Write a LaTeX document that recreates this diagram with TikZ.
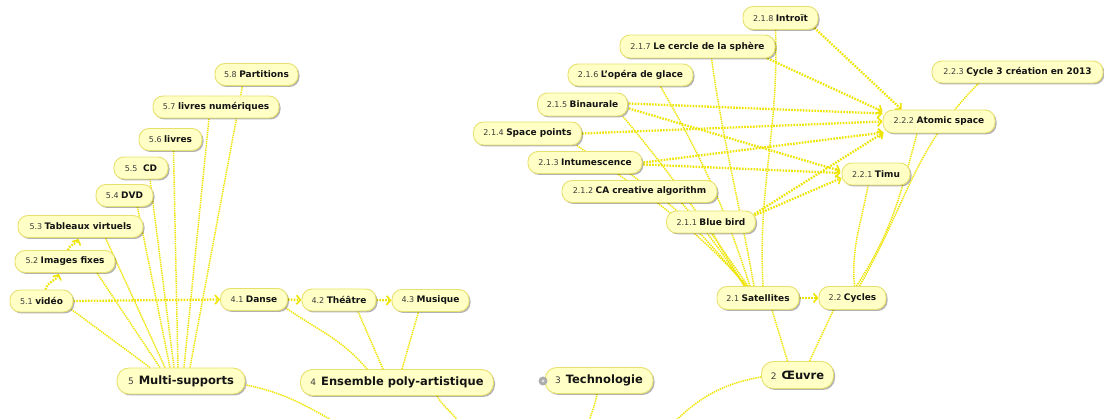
\documentclass[tikz,border=0pt]{standalone}
\usepackage{fontspec}
\setmainfont{DejaVu Sans}
\usetikzlibrary{arrows.meta,shadows,calc}
\definecolor{nodefill}{RGB}{255,255,198}
\definecolor{nodeborder}{RGB}{232,224,110}
\definecolor{edgey}{RGB}{238,228,0}
\definecolor{numgray}{RGB}{60,60,60}
\definecolor{labblack}{RGB}{20,20,20}
\pgfdeclarelayer{edgelayer}
\pgfsetlayers{edgelayer,main}
\newcommand\sn[2]{{\fontsize{8}{9}\selectfont\color{numgray}#1}\hspace{2.5pt}{\fontsize{9}{10}\selectfont\bfseries\color{labblack}#2}}
\newcommand\bn[2]{{\fontsize{9}{10}\selectfont\color{numgray}#1}\hspace{5pt}{\fontsize{11.5}{13}\selectfont\bfseries\color{labblack}#2}}
\tikzset{
  topic/.style={draw=nodeborder, fill=nodefill, line width=0.9pt, rounded corners=10pt, minimum height=22pt, inner xsep=3pt, inner ysep=0pt, drop shadow={shadow xshift=1.5pt, shadow yshift=-1.5pt, opacity=0.3, fill=black}},
  bigtopic/.style={topic, rounded corners=12pt, minimum height=26pt},
  link/.style={draw=edgey, line width=1.5pt, dash pattern=on 1.3pt off 0.9pt},
  rel/.style={draw=edgey, line width=2.3pt, dash pattern=on 1.6pt off 1.3pt, -{Straight Barb[length=4pt,width=9pt,line width=1.6pt]}},
  marker/.style={circle, fill=gray!65, minimum size=9pt, inner sep=0pt},
  markerdot/.style={circle, fill=gray!20, minimum size=3pt, inner sep=0pt},
}
\begin{document}
\begin{tikzpicture}[x=1pt,y=1pt]
\useasboundingbox (0,0) rectangle (1104,-419);
% nodes
\node[topic, minimum width=83pt] (p58) at (256.5,-74.5) {\sn{5.8}{Partitions}};
\node[topic, minimum width=126pt] (p57) at (216,-107) {\sn{5.7}{livres numériques}};
\node[topic, minimum width=63pt] (p56) at (170.5,-139.5) {\sn{5.6}{livres}};
\node[topic, minimum width=54pt] (p55) at (141,-168) {\sn{5.5}{\hspace{3pt}CD}};
\node[topic, minimum width=57pt] (p54) at (124.5,-195.5) {\sn{5.4}{DVD}};
\node[topic, minimum width=125pt] (p53) at (80.5,-226.5) {\sn{5.3}{Tableaux virtuels}};
\node[topic, minimum width=100pt] (p52) at (65,-261.5) {\sn{5.2}{Images fixes}};
\node[topic, minimum width=63pt] (p51) at (41.5,-301) {\sn{5.1}{vidéo}};
\node[topic, minimum width=67pt] (p41) at (254,-299.5) {\sn{4.1}{Danse}};
\node[topic, minimum width=74pt] (p42) at (339,-300) {\sn{4.2}{Théâtre}};
\node[topic, minimum width=77pt] (p43) at (430.5,-300.5) {\sn{4.3}{Musique}};
\node[bigtopic, minimum width=128pt] (p5) at (181,-381) {\bn{5}{Multi-supports}};
\node[bigtopic, minimum width=193pt] (p4) at (397,-382.5) {\bn{4}{Ensemble poly-artistique}};
\node[bigtopic, minimum width=108pt] (p3) at (599,-380.5) {\bn{3}{Technologie}};
\node[marker] (p3c) at (543,-381) {};
\node[markerdot] (p3d) at (p3c) {};
\node[bigtopic, minimum width=72pt, minimum height=27pt] (p2) at (797.5,-375) {\bn{2}{Œuvre}};
\node[topic, minimum width=82pt, minimum height=23pt] (s21) at (758,-298) {\sn{2.1}{Satellites}};
\node[topic, minimum width=67pt, minimum height=23pt] (s22) at (852.5,-298) {\sn{2.2}{Cycles}};
\node[topic, minimum width=171pt] (c223) at (1017.5,-72) {\sn{2.2.3}{Cycle 3 création en 2013}};
\node[topic, minimum width=112pt, minimum height=23pt] (c222) at (939,-121.5) {\sn{2.2.2}{Atomic space}};
\node[topic, minimum width=68pt] (c221) at (876,-174) {\sn{2.2.1}{Timu}};
\node[topic, minimum width=75pt, minimum height=23pt] (a218) at (780.5,-18) {\sn{2.1.8}{Introït}};
\node[topic, minimum width=155pt, minimum height=23pt] (a217) at (697.5,-46.5) {\sn{2.1.7}{Le cercle de la sphère}};
\node[topic, minimum width=125pt] (a216) at (630.5,-75) {\sn{2.1.6}{L'opéra de glace}};
\node[topic, minimum width=90pt, minimum height=23pt] (a215) at (582.5,-104.5) {\sn{2.1.5}{Binaurale}};
\node[topic, minimum width=108pt, minimum height=23pt] (a214) at (527.5,-133.5) {\sn{2.1.4}{Space points}};
\node[topic, minimum width=114pt] (a213) at (585,-162.5) {\sn{2.1.3}{Intumescence}};
\node[topic, minimum width=155pt] (a212) at (639.5,-191.5) {\sn{2.1.2}{CA creative algorithm}};
\node[topic, minimum width=89pt] (a211) at (711,-222) {\sn{2.1.1}{Blue bird}};
% free ends
\coordinate (e5) at (345,-428);
\coordinate (e4) at (462,-428);
\coordinate (e3) at (587,-428);
\coordinate (e2) at (668,-428);
\begin{pgfonlayer}{edgelayer}
% Multi-supports
\draw[link] ($(p5.north)+(-31,0)$) -- ($(p51.south east)+(-2,3)$);
\draw[link] ($(p5.north)+(-21,0)$) -- ($(p52.south)+(32,0)$);
\draw[link] ($(p5.north)+(-16,0)$) -- ($(p53.south)+(25,0)$);
\draw[link] ($(p5.north)+(-11,0)$) -- ($(p54.south)+(13,0)$);
\draw[link] ($(p5.north)+(-7,0)$) -- ($(p55.south)+(9,0)$);
\draw[link] ($(p5.north)+(-3,0)$) -- ($(p56.south)+(3,0)$);
\draw[link] ($(p5.north)+(3,0)$) -- ($(p57.south)+(-7,0)$);
\draw[link] ($(p5.north)+(9,0)$) -- ($(p58.south)+(-14,0)$);
\draw[link] ($(p5.east)+(1,-4)$) to[out=-12,in=150] (e5);
% Ensemble
\draw[link] ($(p4.north)+(-30,0)$) to[out=130,in=-35] ($(p41.south east)+(-2,3)$);
\draw[link] ($(p4.north)+(-14,0)$) -- ($(p42.south)+(19,0)$);
\draw[link] ($(p4.north)+(5,0)$) -- ($(p43.south)+(-12,0)$);
\draw[link] ($(p4.south)+(40,0)$) to[out=-60,in=115] (e4);
% Technologie
\draw[link] ($(p3.south)+(-2,0)$) to[out=-100,in=75] (e3);
% Oeuvre
\draw[link] ($(p2.north)+(-10,0)$) -- ($(s21.south)+(14,0)$);
\draw[link] ($(p2.north)+(12,0)$) -- ($(s22.south)+(-19,0)$);
\draw[link] ($(p2.west)+(0,-2)$) to[out=190,in=45] (e2);
% Satellites
\draw[link] ($(s21.north)+(-14,0)$) to[out=120,in=-62] ($(a211.south)+(2,0)$);
\draw[link] ($(s21.north)+(-13,0)$) to[out=125,in=-48] ($(a212.south)+(42,0)$);
\draw[link] ($(s21.north)+(-12,0)$) to[out=130,in=-35] ($(a213.south)+(45,0)$);
\draw[link] ($(s21.north)+(-11,0)$) to[out=132,in=-35] ($(a214.south east)+(-5,0)$);
\draw[link] ($(s21.north)+(-10,0)$) to[out=125,in=-50] ($(a215.south east)+(-5,0)$);
\draw[link] ($(s21.north)+(-8,0)$) to[out=108,in=-60] ($(a216.south)+(30,0)$);
\draw[link] ($(s21.north)+(-4,0)$) to[out=100,in=-82] ($(a217.south)+(14,0)$);
\draw[link] ($(s21.north)+(5,0)$) to[out=93,in=-88] ($(a218.south)+(-5,0)$);
% Cycles
\draw[link] ($(s22.north)+(2,0)$) to[out=95,in=-100] ($(c221.south)+(-8,0)$);
\draw[link] ($(s22.north)+(4,0)$) to[out=57,in=-105] ($(c222.south)+(-22,0)$);
\draw[link] ($(s22.north)+(7,0)$) to[out=60,in=-135] ($(c223.south)+(-39,0)$);
% relationships
\draw[rel] ($(p51.north)+(4,0)$) to[out=80,in=-115] ($(p52.south)+(-6,-1)$);
\draw[rel] ($(p52.north)+(3,0)$) to[out=75,in=-115] ($(p53.south)+(-2,-1)$);
\draw[rel] (p51.east) -- (p41.west);
\draw[rel] (p41.east) -- (p42.west);
\draw[rel] (p42.east) -- (p43.west);
\draw[rel] (s21.east) -- (s22.west);
\draw[rel] ($(a218.south east)+(-4,2)$) -- ($(c222.north west)+(19,0)$);
\draw[rel] ($(a217.south east)+(-8,0)$) -- ($(c222.west)+(0,10)$);
\draw[rel] ($(a215.east)+(1,1)$) -- ($(c222.west)+(0,8)$);
\draw[rel] ($(a215.east)+(1,-4)$) -- ($(c221.west)+(-1,3)$);
\draw[rel] (a214.east) -- (c222.west);
\draw[rel] ($(a213.east)+(1,0)$) -- ($(c222.west)+(1,-11)$);
\draw[rel] ($(a213.east)+(1,-2)$) -- ($(c221.west)+(-1,1)$);
\draw[rel] ($(a211.north east)+(-4,-5)$) -- ($(c222.west)+(1,-11)$);
\draw[rel] ($(a211.north east)+(-4,-6)$) -- ($(c221.west)+(0,-4)$);
\end{pgfonlayer}
\end{tikzpicture}
\end{document}
